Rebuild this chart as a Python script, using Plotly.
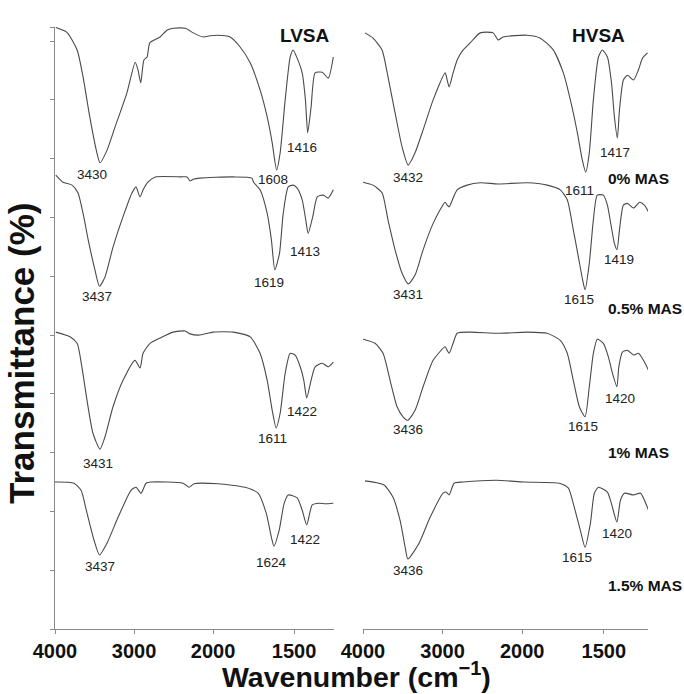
import plotly.graph_objects as go

# ---------------- data ----------------
# Wavenumbers (cm-1) and stacked transmittance (arbitrary offset %, 0 at bottom axis)
lvsa_0_wn = [3990,3850,3720,3645,3560,3470,3430,3340,3240,3090,2985,2950,2915,2875,2835,2800,2670,2580,2500,2350,2250,2125,2040,1975,1895,1833,1771,1710,1666,1635,1608,1586,1555,1524,1506,1481,1450,1430,1416,1395,1370,1326,1289,1258]
lvsa_0_t = [102.3,101.5,98.5,93.9,87.1,81.0,79.3,81.5,85.4,91.2,96.4,95.1,92.9,96.8,97.3,99.7,100.7,101.9,102.2,102.2,101.4,100.7,100.9,101.0,100.7,99.0,96.3,91.7,87.1,82.7,78.1,81.0,90.0,97.3,98.5,97.1,94.6,90.0,84.4,88.8,94.6,94.7,93.7,97.3]

lvsa_05_wn = [3990,3900,3785,3710,3645,3580,3495,3437,3367,3265,3140,3025,2975,2925,2885,2825,2730,2400,2330,2291,2250,2165,1876,1760,1750,1710,1666,1640,1619,1590,1567,1536,1506,1481,1450,1428,1413,1385,1357,1320,1289,1258]
lvsa_05_t = [77.2,76.0,75.5,74.2,70.7,66.2,61.1,58.3,59.9,65.0,70.1,74.2,75.2,73.5,74.7,76.0,76.9,76.9,76.9,76.2,76.5,76.7,76.9,76.7,76.0,74.7,70.7,66.2,61.1,63.9,70.7,75.2,75.5,75.0,73.0,69.6,67.3,70.1,73.5,73.8,73.3,74.7]

lvsa_1_wn = [3990,3810,3720,3660,3595,3520,3431,3367,3266,3139,2987,2924,2886,2797,2671,2506,2354,2291,2165,2000,1876,1771,1710,1666,1635,1611,1586,1555,1524,1493,1462,1440,1422,1395,1370,1326,1289,1258]
lvsa_1_t = [50.5,49.7,48.6,44.6,38.9,33.3,30.6,32.7,37.8,42.3,45.7,44.4,46.9,48.6,49.5,50.5,50.7,50.2,50.0,50.5,50.5,49.7,46.9,42.3,37.2,34.2,36.7,43.5,46.9,46.6,44.6,42.3,39.3,42.3,44.6,45.2,44.6,45.4]

lvsa_15_wn = [4000,3760,3670,3595,3506,3437,3342,3202,3038,2975,2911,2848,2785,2380,2304,2241,1969,1802,1722,1672,1640,1624,1592,1561,1536,1481,1450,1422,1388,1345,1308,1258]
lvsa_15_t = [25.0,24.8,23.6,19.7,15.1,12.6,14.6,19.0,23.6,24.1,23.1,24.8,25.0,24.8,24.1,24.7,24.7,24.1,23.1,19.7,15.6,14.1,16.8,21.4,22.8,22.3,20.2,17.7,21.1,21.4,21.3,21.4]

hvsa_0_wn = [3975,3874,3761,3686,3597,3509,3432,3346,3245,3119,2968,2943,2918,2868,2817,2742,2654,2528,2365,2302,2239,1969,1889,1810,1748,1705,1662,1632,1611,1589,1564,1533,1509,1478,1453,1435,1417,1404,1380,1355,1318,1288,1263,1232]
hvsa_0_t = [101.4,100.5,98.5,93.9,87.8,82.0,78.9,81.0,84.9,90.0,94.6,93.4,92.2,94.6,96.8,98.5,99.7,101.4,101.4,100.2,100.7,101.0,100.5,98.5,94.6,90.0,84.4,79.8,77.7,81.0,90.0,97.3,98.5,97.3,92.9,87.1,83.5,88.3,93.4,94.2,93.4,95.1,97.1,98.0]

hvsa_05_wn = [4000,3874,3761,3686,3597,3509,3431,3346,3245,3119,2968,2943,2918,2868,2817,2692,2528,2302,1969,1847,1767,1724,1687,1656,1630,1615,1589,1564,1540,1503,1478,1454,1435,1419,1404,1380,1355,1318,1281,1251,1226]
hvsa_05_t = [76.0,75.5,74.2,69.6,64.5,60.5,58.7,60.2,64.5,69.0,72.6,72.1,71.8,73.3,74.7,75.5,75.9,75.7,75.9,75.5,74.7,73.0,67.9,63.3,59.4,57.7,62.2,69.6,73.8,73.8,72.1,68.4,65.6,64.5,67.9,72.1,72.4,71.6,72.6,72.1,70.9]

hvsa_1_wn = [4000,3849,3748,3660,3572,3497,3436,3346,3245,3119,2968,2943,2918,2868,2817,2654,2302,1969,1847,1767,1724,1687,1650,1615,1589,1564,1540,1503,1472,1447,1420,1408,1386,1355,1318,1288,1257,1226]
hvsa_1_t = [49.3,48.6,46.9,42.3,37.8,36.1,35.5,37.2,41.2,45.7,48.0,47.4,46.9,48.6,50.3,50.5,50.3,50.5,50.3,49.1,46.9,42.3,37.8,36.1,41.2,46.9,49.3,48.6,46.3,43.5,41.2,44.6,47.1,47.4,46.6,46.9,45.7,44.0]

hvsa_15_wn = [3975,3736,3623,3535,3470,3436,3296,3157,2994,2956,2918,2855,2742,2327,1988,1773,1718,1681,1644,1615,1582,1558,1533,1478,1454,1420,1398,1374,1318,1275,1251,1226]
hvsa_15_t = [25.2,24.5,22.4,18.5,13.9,11.9,14.6,19.0,23.1,23.3,22.8,24.8,25.0,25.3,25.0,24.8,24.0,20.7,16.8,13.9,18.0,23.1,24.1,23.3,21.4,18.2,21.9,23.1,22.8,23.1,21.9,20.2]

sample_labels = ["0% MAS", "0.5% MAS", "1% MAS", "1.5% MAS"]
panel_titles = ["LVSA", "HVSA"]
lvsa_peaks = [[3430, 1608, 1416], [3437, 1619, 1413], [3431, 1611, 1422], [3437, 1624, 1422]]
hvsa_peaks = [[3432, 1611, 1417], [3431, 1615, 1419], [3436, 1615, 1420], [3436, 1615, 1420]]
x_tick_values = [4000, 3000, 2000, 1500]

# ---------------- axis transform (scale doubles below 2000 cm-1) ----------------
BREAK = 2000.0
FACTOR = 2.05

def u(w):
    return w if w >= BREAK else BREAK - FACTOR * (BREAK - w)

# label offsets in px (dx, dy below the band minimum) -- style only
lvsa_off = [[(-8, 12), (-4, 10), (-6, 15)], [(-3, 10), (-6, 13), (-3, 18)],
            [(-2, 14), (-4, 11), (-5, 14)], [(0, 12), (-3, 16), (-2, 15)]]
hvsa_off = [[(0, 12), (-6, 18), (-2, 14)], [(0, 11), (-6, 10), (2, 10)],
            [(0, 9), (-2, 10), (3, 12)], [(0, 11), (-8, 10), (0, 11)]]

FONT = "Liberation Sans, Arial, sans-serif"
LINE = "#4a4a4a"
AX = "#8a8a8a"

fig = go.Figure()
annotations = []

panels = [
    ("x", "y", [(lvsa_0_wn, lvsa_0_t), (lvsa_05_wn, lvsa_05_t), (lvsa_1_wn, lvsa_1_t), (lvsa_15_wn, lvsa_15_t)], lvsa_peaks, lvsa_off),
    ("x2", "y2", [(hvsa_0_wn, hvsa_0_t), (hvsa_05_wn, hvsa_05_t), (hvsa_1_wn, hvsa_1_t), (hvsa_15_wn, hvsa_15_t)], hvsa_peaks, hvsa_off),
]

for xa, ya, series, peaks, offs in panels:
    for (wn, t), pk, of in zip(series, peaks, offs):
        fig.add_trace(go.Scatter(
            x=[u(w) for w in wn], y=t, mode="lines", xaxis=xa, yaxis=ya,
            line=dict(color=LINE, width=1.1, shape="spline", smoothing=0.6),
            showlegend=False, hoverinfo="skip"))
        for p, (dx, dy) in zip(pk, of):
            yv = t[wn.index(p)]
            annotations.append(dict(
                x=u(p), y=yv, xref=xa, yref=ya, text=str(p), showarrow=False,
                xanchor="center", yanchor="middle", xshift=dx, yshift=-dy,
                font=dict(family=FONT, size=13.5, color="#222")))

W, H = 684, 694

def px(x):
    return x / W

def py(y):
    return 1 - y / H

# panel titles and sample labels
annotations.append(dict(x=px(305), y=py(23), xref="paper", yref="paper", text=panel_titles[0],
                        showarrow=False, font=dict(family=FONT, size=19, color="#111", weight="bold")))
annotations.append(dict(x=px(627), y=py(23), xref="paper", yref="paper", text=panel_titles[1],
                        showarrow=False, font=dict(family=FONT, size=19, color="#111", weight="bold")))
for lab, yy in zip(sample_labels, [178, 308, 452, 585]):
    annotations.append(dict(x=px(606), y=py(yy), xref="paper", yref="paper", text=lab,
                            xanchor="left", yanchor="middle", showarrow=False,
                            font=dict(family=FONT, size=15.5, color="#111", weight="bold")))

# axis titles
annotations.append(dict(x=px(356), y=py(675), xref="paper", yref="paper",
                        text="Wavenumber (cm<sup>\u22121</sup>)", showarrow=False,
                        xanchor="center", yanchor="middle",
                        font=dict(family=FONT, size=28.5, color="#111", weight="bold")))
annotations.append(dict(x=px(22), y=py(354), xref="paper", yref="paper",
                        text="Transmittance (%)", showarrow=False, textangle=-90,
                        xanchor="center", yanchor="middle",
                        font=dict(family=FONT, size=35, color="#111", weight="bold")))

tickfont = dict(family=FONT, size=20, color="#111", weight="bold")
xcommon = dict(showline=True, linecolor=AX, linewidth=1, ticks="outside", ticklen=4,
               tickcolor=AX, tickvals=[u(v) for v in x_tick_values],
               ticktext=[str(v) for v in x_tick_values], tickfont=tickfont,
               showgrid=False, zeroline=False, fixedrange=True, automargin=False)

ydom = [py(629), py(27)]
fig.update_layout(
    width=W, height=H, margin=dict(l=0, r=0, t=0, b=0, pad=0, autoexpand=False),
    paper_bgcolor="white", plot_bgcolor="white",
    xaxis=dict(domain=[px(55), px(334)], range=[4000, 470], anchor="y", **xcommon),
    xaxis2=dict(domain=[px(363), px(648)], range=[4000, 420], anchor="y2", **xcommon),
    yaxis=dict(domain=ydom, range=[0, 102.4], anchor="x", showline=True, linecolor=AX,
               linewidth=1, ticks="outside", ticklen=4, tickcolor=AX,
               tickvals=[0, 10, 20, 30, 40, 50, 60, 70, 80, 90, 100, 102.4],
               showticklabels=False, showgrid=False, zeroline=False, automargin=False),
    yaxis2=dict(domain=ydom, range=[0, 102.4], anchor="x2", showline=False, ticks="",
                showticklabels=False, showgrid=False, zeroline=False, automargin=False),
    annotations=annotations,
)

fig.write_html("out.html", config={"displayModeBar": False},
               post_script="document.body.style.margin='0';document.body.style.overflow='hidden';")
